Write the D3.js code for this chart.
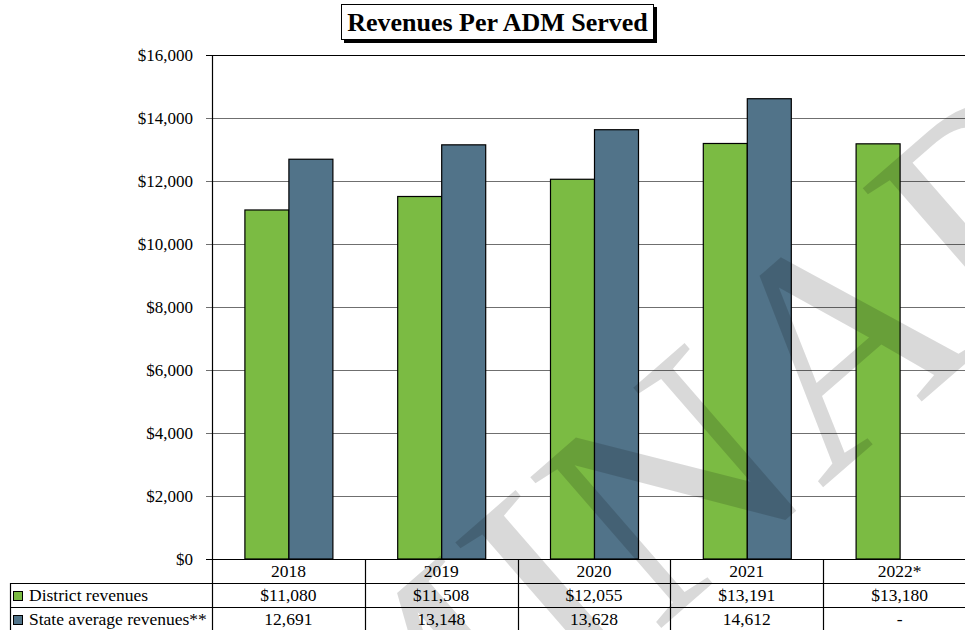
<!DOCTYPE html>
<html><head><meta charset="utf-8">
<script src="https://cdn.jsdelivr.net/npm/d3@7"></script>
<style>
html,body{margin:0;padding:0;background:#fff;}
svg{display:block;}
svg text{font-family:"Liberation Serif","Times New Roman","DejaVu Serif",serif;}
</style></head>
<body>
<svg id="chart" width="965" height="630"></svg>
<script>
const categories = ["2018", "2019", "2020", "2021", "2022*"];
const districtRevenues = [11080, 11508, 12055, 13191, 13180];
const stateRevenues = [12691, 13148, 13628, 14612, null];
const seriesNames = ["District revenues", "State average revenues**"];
const seriesColors = ["#7bbb43", "#517389"];
const yTicks = [0, 2000, 4000, 6000, 8000, 10000, 12000, 14000, 16000];
const titleText = "Revenues Per ADM Served";
const watermarkText = "PRELIMINARY";

const FONT = "Liberation Serif, Times New Roman, DejaVu Serif, serif";
const svg = d3.select("#chart");
const W = 965, H = 630;
const plotLeft = 212, plotRight = 976, plotTop = 55, plotBottom = 559;

const y = d3.scaleLinear().domain([0, 16000]).range([plotBottom, plotTop]);
const x = d3.scaleBand().domain(categories).range([plotLeft, plotRight]).padding(0);
const groupW = 88;
const x1 = d3.scaleBand().domain(seriesNames).range([0, groupW]).padding(0);

// gridlines
const grid = svg.append("g");
grid.selectAll("line").data(yTicks).join("line")
  .attr("x1", plotLeft - 6).attr("x2", plotRight)
  .attr("y1", d => Math.round(y(d)) + 0.5).attr("y2", d => Math.round(y(d)) + 0.5)
  .attr("stroke", d => d === 16000 || d === 0 ? "#000" : "#6f6f6f")
  .attr("stroke-width", 1.2);

// y axis labels
const yAxis = d3.axisLeft(y).tickValues(yTicks).tickFormat(d3.format("$,")).tickSize(0).tickPadding(0);
const ya = svg.append("g").attr("transform", `translate(${plotLeft - 19},0)`).call(yAxis)
  .attr("font-family", FONT);
ya.select(".domain").remove();
ya.selectAll("text").attr("font-size", 17).attr("font-family", FONT).attr("fill", "#000");

// bars
const data = categories.map((c, i) => ({cat: c, vals: [districtRevenues[i], stateRevenues[i]]}));
const groups = svg.append("g").selectAll("g").data(data).join("g")
  .attr("transform", d => `translate(${x(d.cat) + (x.bandwidth() - groupW) / 2},0)`);
groups.selectAll("rect").data(d => d.vals.map((v, j) => ({v, s: seriesNames[j], c: seriesColors[j]})).filter(e => e.v != null))
  .join("rect")
  .attr("x", e => x1(e.s) + 0.5)
  .attr("width", x1.bandwidth())
  .attr("y", e => y(e.v))
  .attr("height", e => plotBottom - y(e.v))
  .attr("fill", e => e.c)
  .attr("stroke", "#000").attr("stroke-width", 1.2);

// axis line
svg.append("line").attr("x1", plotLeft + 0.5).attr("x2", plotLeft + 0.5).attr("y1", plotTop).attr("y2", H)
  .attr("stroke", "#000").attr("stroke-width", 1.2);

// data table
const rowY = [559, 583, 607, 631];
const tbl = svg.append("g").attr("font-family", FONT);
tbl.append("line").attr("x1", plotLeft).attr("x2", plotRight).attr("y1", rowY[0] + 0.5).attr("y2", rowY[0] + 0.5).attr("stroke", "#000").attr("stroke-width", 1.2);
[rowY[1], rowY[2], rowY[3]].forEach(yy => {
  tbl.append("line").attr("x1", 10).attr("x2", plotRight).attr("y1", yy + 0.5).attr("y2", yy + 0.5).attr("stroke", "#000").attr("stroke-width", 1.2);
});
tbl.append("line").attr("x1", 10.5).attr("x2", 10.5).attr("y1", rowY[1]).attr("y2", H).attr("stroke", "#000").attr("stroke-width", 1.2);
tbl.selectAll("line.col").data(categories.slice(1)).join("line").attr("class", "col")
  .attr("x1", d => Math.round(x(d)) + 0.5).attr("x2", d => Math.round(x(d)) + 0.5)
  .attr("y1", rowY[0]).attr("y2", H).attr("stroke", "#000").attr("stroke-width", 1.2);
const fmtD = d3.format("$,");
const fmtS = d3.format(",");
const rows = [
  categories,
  districtRevenues.map(v => fmtD(v)),
  stateRevenues.map(v => v == null ? "-" : fmtS(v))
];
rows.forEach((r, ri) => {
  tbl.selectAll("text.r" + ri).data(r).join("text").attr("class", "r" + ri)
    .attr("x", (d, i) => x(categories[i]) + x.bandwidth() / 2).attr("y", rowY[ri] + 18)
    .attr("text-anchor", "middle").attr("font-size", 17.5).attr("font-family", FONT).text(d => d);
});
seriesNames.forEach((n, j) => {
  tbl.append("rect").attr("x", 13.5).attr("y", rowY[j + 1] + 8.5).attr("width", 9).attr("height", 9)
    .attr("fill", seriesColors[j]).attr("stroke", "#000").attr("stroke-width", 1);
  tbl.append("text").attr("x", 29).attr("y", rowY[j + 1] + 18).attr("font-size", 17.5).attr("font-family", FONT).text(n);
});

// title
const tb = svg.append("g");
tb.append("rect").attr("x", 344).attr("y", 7).attr("width", 313).attr("height", 36).attr("fill", "#000");
tb.append("rect").attr("x", 341.5).attr("y", 4.5).attr("width", 312).attr("height", 35).attr("fill", "#fff").attr("stroke", "#000").attr("stroke-width", 1);
tb.append("text").attr("x", 497.5).attr("y", 31).attr("text-anchor", "middle")
  .attr("font-size", 26).attr("font-weight", "bold").attr("font-family", FONT).text(titleText);

// watermark
svg.append("text")
  .attr("transform", "translate(448,680) rotate(-41)")
  .attr("text-anchor", "middle").attr("dy", "0.33em")
  .attr("font-size", 305).attr("font-family", FONT)
  .attr("fill", "#000").attr("fill-opacity", 0.15)
  .text(watermarkText);
</script>
</body></html>
